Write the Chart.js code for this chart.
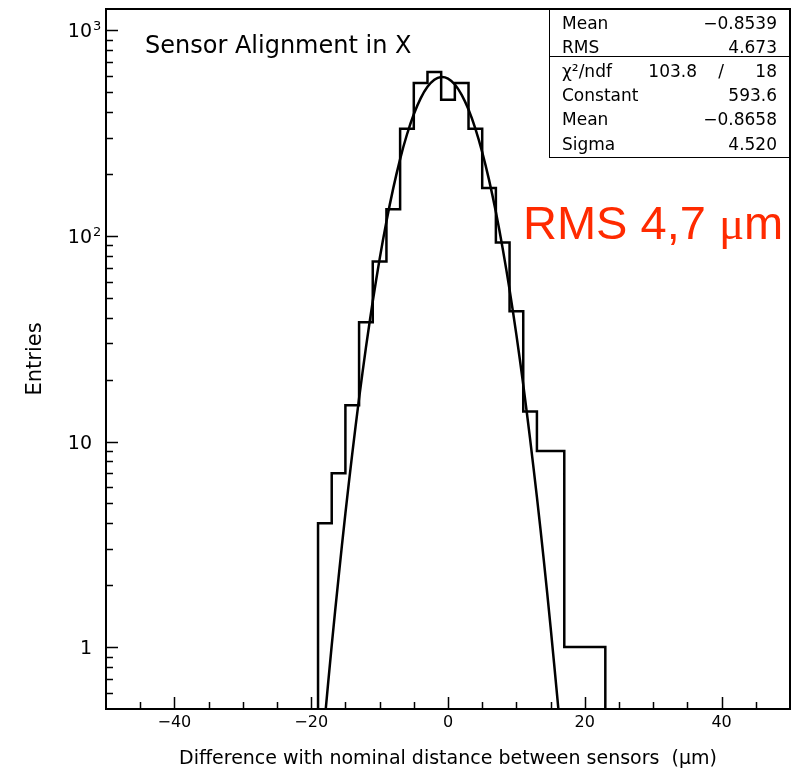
<!DOCTYPE html>
<html>
<head>
<meta charset="utf-8">
<script src="https://cdn.jsdelivr.net/npm/chart.js"></script>
<style>
  html, body { margin: 0; padding: 0; background: #fff; }
  #wrap { width: 793px; height: 775px; position: relative; }
</style>
</head>
<body>
<div id="wrap"><canvas id="histo"></canvas></div>
<script>
"use strict";

// Histogram bins (width 2 um)
const binWidth = 2;
const binCenters = [-18, -16, -14, -12, -10, -8, -6, -4, -2, 0, 2, 4, 6, 8, 10, 12, 14, 16, 18, 20, 22];
const binCounts  = [4, 7, 15, 38, 75, 135, 332, 555, 628, 459, 555, 332, 171, 93, 43, 14, 9, 9, 1, 1, 1];

// Gaussian fit curve
const fitX = [-19, -18, -17, -16, -15, -14, -13, -12, -11, -10, -9, -8, -7, -6, -5, -4, -3, -2, -1,
              0, 1, 2, 3, 4, 5, 6, 7, 8, 9, 10, 11, 12, 13, 14, 15, 16, 17];
const fitY = [0.19, 0.45, 1.02, 2.18, 4.47, 8.7, 16.2, 28.6, 48.1, 77.1, 117.6, 170.8, 236.4, 311.4, 390.7, 466.8, 531, 575.2, 593.3,
              582.8, 545.1, 485.5, 411.7, 332.5, 255.7, 187.3, 130.6, 86.7, 54.8, 33, 18.9, 10.3, 5.36, 2.66, 1.25, 0.56, 0.24];

// Axis ticks
const xTickValues  = [-45, -40, -35, -30, -25, -20, -15, -10, -5, 0, 5, 10, 15, 20, 25, 30, 35, 40, 45];
const xLabelValues = [-40, -20, 0, 20, 40];
const yMinorValues = [0.6, 0.7, 0.8, 0.9, 2, 3, 4, 5, 6, 7, 8, 9, 20, 30, 40, 50, 60, 70, 80, 90,
                      200, 300, 400, 500, 600, 700, 800, 900];
const yLabelValues = [1, 10, 100, 1000];
const yLabelBase   = ["1", "10", "10", "10"];
const yLabelExp    = ["", "", "2", "3"];

// Stats box
const statNames  = ["Mean", "RMS", "χ²/ndf", "Constant", "Mean", "Sigma"];
const statValues = ["\u22120.8539", "4.673", "18", "593.6", "\u22120.8658", "4.520"];
const chi2Value  = "103.8";

const fontSans = "DejaVu Sans";

// Draws the ROOT-like frame, inward ticks, labels, title and stats box
const rootLook = {
    id: "rootLook",
    afterDatasetsDraw(chart) {
        const { ctx, chartArea: a, scales } = chart;
        const x = scales.x, y = scales.y;
        ctx.save();
        ctx.strokeStyle = "#000";
        ctx.lineWidth = 1.5;
        ctx.beginPath();
        xTickValues.forEach(v => {
            const px = Math.round(x.getPixelForValue(v)) + 0.5;
            const len = xLabelValues.includes(v) ? 12 : 7;
            ctx.moveTo(px, a.bottom);
            ctx.lineTo(px, a.bottom - len);
        });
        yMinorValues.forEach(v => {
            const py = Math.round(y.getPixelForValue(v)) + 0.5;
            ctx.moveTo(a.left, py);
            ctx.lineTo(a.left + 7, py);
        });
        yLabelValues.forEach(v => {
            const py = Math.round(y.getPixelForValue(v)) + 0.5;
            ctx.moveTo(a.left, py);
            ctx.lineTo(a.left + 12, py);
        });
        ctx.stroke();

        ctx.lineWidth = 2;
        ctx.strokeRect(a.left, a.top, a.right - a.left, a.bottom - a.top);

        // y labels with exponents
        ctx.fillStyle = "#000";
        ctx.textBaseline = "alphabetic";
        yLabelValues.forEach((v, i) => {
            const py = y.getPixelForValue(v);
            ctx.font = "19px " + fontSans;
            ctx.textAlign = "right";
            ctx.fillText(yLabelBase[i], 92, py + 7);
            if (yLabelExp[i]) {
                ctx.font = "13px " + fontSans;
                ctx.textAlign = "left";
                ctx.fillText(yLabelExp[i], 93, py);
            }
        });
        ctx.restore();
    },
    afterDraw(chart) {
        const { ctx, chartArea: a } = chart;
        ctx.save();
        ctx.fillStyle = "#000";
        ctx.textBaseline = "alphabetic";

        // title inside the frame
        ctx.font = "24px " + fontSans;
        ctx.textAlign = "left";
        ctx.fillText("Sensor Alignment in X", 145, 53);

        // stats box
        const bx = 549, by = a.top, bw = a.right - bx, bh = 157 - a.top;
        ctx.fillStyle = "#fff";
        ctx.fillRect(bx, by, bw, bh);
        ctx.strokeStyle = "#000";
        ctx.lineWidth = 1;
        ctx.strokeRect(bx + 0.5, by + 0.5, bw - 1, bh);
        ctx.beginPath();
        ctx.moveTo(bx, 56.5);
        ctx.lineTo(a.right, 56.5);
        ctx.stroke();

        ctx.fillStyle = "#000";
        ctx.font = "17px " + fontSans;
        statNames.forEach((name, i) => {
            const base = 28.5 + i * 24.2;
            ctx.textAlign = "left";
            ctx.fillText(name, 562, base);
            ctx.textAlign = "right";
            ctx.fillText(statValues[i], 777, base);
            if (i === 2) {
                ctx.fillText(chi2Value, 697, base);
                ctx.textAlign = "center";
                ctx.fillText("/", 721, base);
            }
        });

        // red annotation
        ctx.fillStyle = "#ff2a00";
        ctx.textAlign = "left";
        let tx = 523;
        ctx.font = "47px 'Liberation Sans'";
        ctx.fillText("RMS 4,7 ", tx, 239);
        tx += ctx.measureText("RMS 4,7 ").width;
        ctx.font = "47px 'Liberation Serif'";
        ctx.fillText("μ", tx, 239);
        tx += ctx.measureText("μ").width;
        ctx.font = "47px 'Liberation Sans'";
        ctx.fillText("m", tx, 239);
        ctx.restore();
    }
};

// Outline points of the histogram: left edge of every bin, closed at both ends
const histPoints = [{ x: binCenters[0] - binWidth / 2, y: 0.1 }];
binCenters.forEach((c, i) => histPoints.push({ x: c - binWidth / 2, y: binCounts[i] }));
histPoints.push({ x: binCenters[binCenters.length - 1] + binWidth / 2, y: 0.1 });

const fitPoints = fitX.map((v, i) => ({ x: v, y: fitY[i] }));

new Chart(document.getElementById("histo"), {
    type: "scatter",
    data: {
        datasets: [
            {
                label: "histogram",
                data: histPoints,
                showLine: true,
                stepped: true,
                borderColor: "#000",
                borderWidth: 2.5,
                pointRadius: 0,
                fill: false
            },
            {
                label: "gauss fit",
                data: fitPoints,
                showLine: true,
                tension: 0.3,
                borderColor: "#000",
                borderWidth: 2.5,
                pointRadius: 0,
                fill: false
            }
        ]
    },
    options: {
        responsive: true,
        maintainAspectRatio: false,
        animation: false,
        layout: { padding: { top: 9, right: 3, left: 0, bottom: 0 } },
        plugins: {
            legend: { display: false },
            tooltip: { enabled: false }
        },
        scales: {
            x: {
                type: "linear",
                min: -50,
                max: 50,
                afterBuildTicks: scale => { scale.ticks = xLabelValues.map(v => ({ value: v })); },
                afterFit: scale => { scale.height = 66; },
                grid: { display: false, drawTicks: false },
                border: { display: false },
                ticks: {
                    color: "#000",
                    padding: 4,
                    maxRotation: 0,
                    font: { family: fontSans, size: 16 },
                    callback: v => (v < 0 ? "\u2212" + Math.abs(v) : String(v))
                },
                title: {
                    display: true,
                    text: "Difference with nominal distance between sensors  (μm)",
                    color: "#000",
                    font: { family: fontSans, size: 19 },
                    padding: { top: 0, bottom: 5 }
                }
            },
            y: {
                type: "logarithmic",
                min: 0.5,
                max: 1270,
                afterFit: scale => { scale.width = 106; },
                grid: { display: false, drawTicks: false },
                border: { display: false },
                ticks: { display: false },
                title: {
                    display: true,
                    text: "Entries",
                    color: "#000",
                    font: { family: fontSans, size: 21 },
                    padding: { top: 23, bottom: 0 }
                }
            }
        }
    },
    plugins: [rootLook]
});
</script>
</body>
</html>
